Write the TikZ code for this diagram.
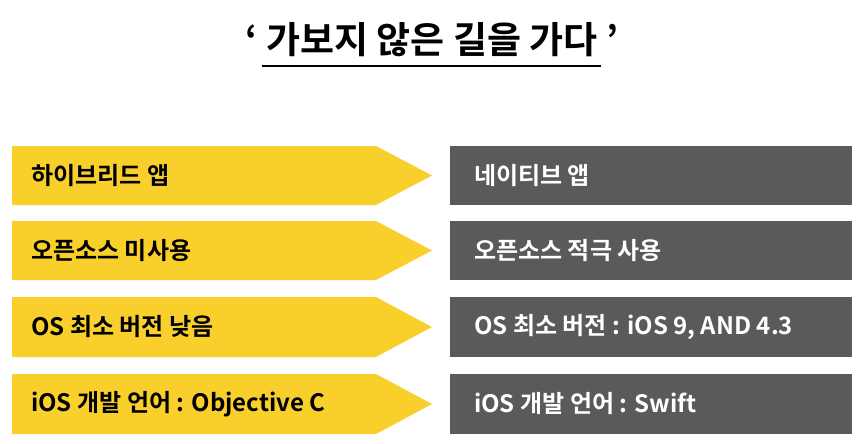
\documentclass[tikz,border=0pt]{standalone}
\usepackage{fontspec}
\setmainfont{Noto Sans CJK KR}[BoldFont={* Bold}]
\definecolor{ylw}{HTML}{F9CF2C}
\definecolor{gry}{HTML}{5A5A5A}
\tikzset{lbl/.style={anchor=west,font=\bfseries\fontsize{24}{28}\selectfont,inner sep=0pt},
 box/.style={fill=gry,draw=none}, arr/.style={fill=ylw,draw=none}}
\begin{document}
\begin{tikzpicture}[x=1pt,y=-1pt]
\useasboundingbox (0,0) rectangle (863,444);
\node[font=\bfseries\fontsize{37}{42}\selectfont] (title) at (432,40) {‘ 가보지 않은 길을 가다 ’};
\draw[line width=1.2pt] (262,66) -- (601,66);
\foreach \t/\b/\l/\r [count=\i] in {146/205/하이브리드 앱/네이티브 앱, 221/280/오픈소스 미사용/오픈소스 적극 사용, 297/357/OS 최소 버전 낮음/{OS 최소 버전 : iOS 9, AND 4.3}, 374/434/iOS 개발 언어 : Objective C/iOS 개발 언어 : Swift}{
 \fill[arr] (12,\t) -- (376,\t) -- (432,{(\t+\b)/2}) -- (376,\b) -- (12,\b) -- cycle;
 \fill[box] (450,\t) rectangle (852,\b);
 \node[lbl] (l\i) at (31,{(\t+\b)/2}) {\l};
 \node[lbl,text=white] (r\i) at (474,{(\t+\b)/2}) {\r};
}
\end{tikzpicture}
\end{document}
